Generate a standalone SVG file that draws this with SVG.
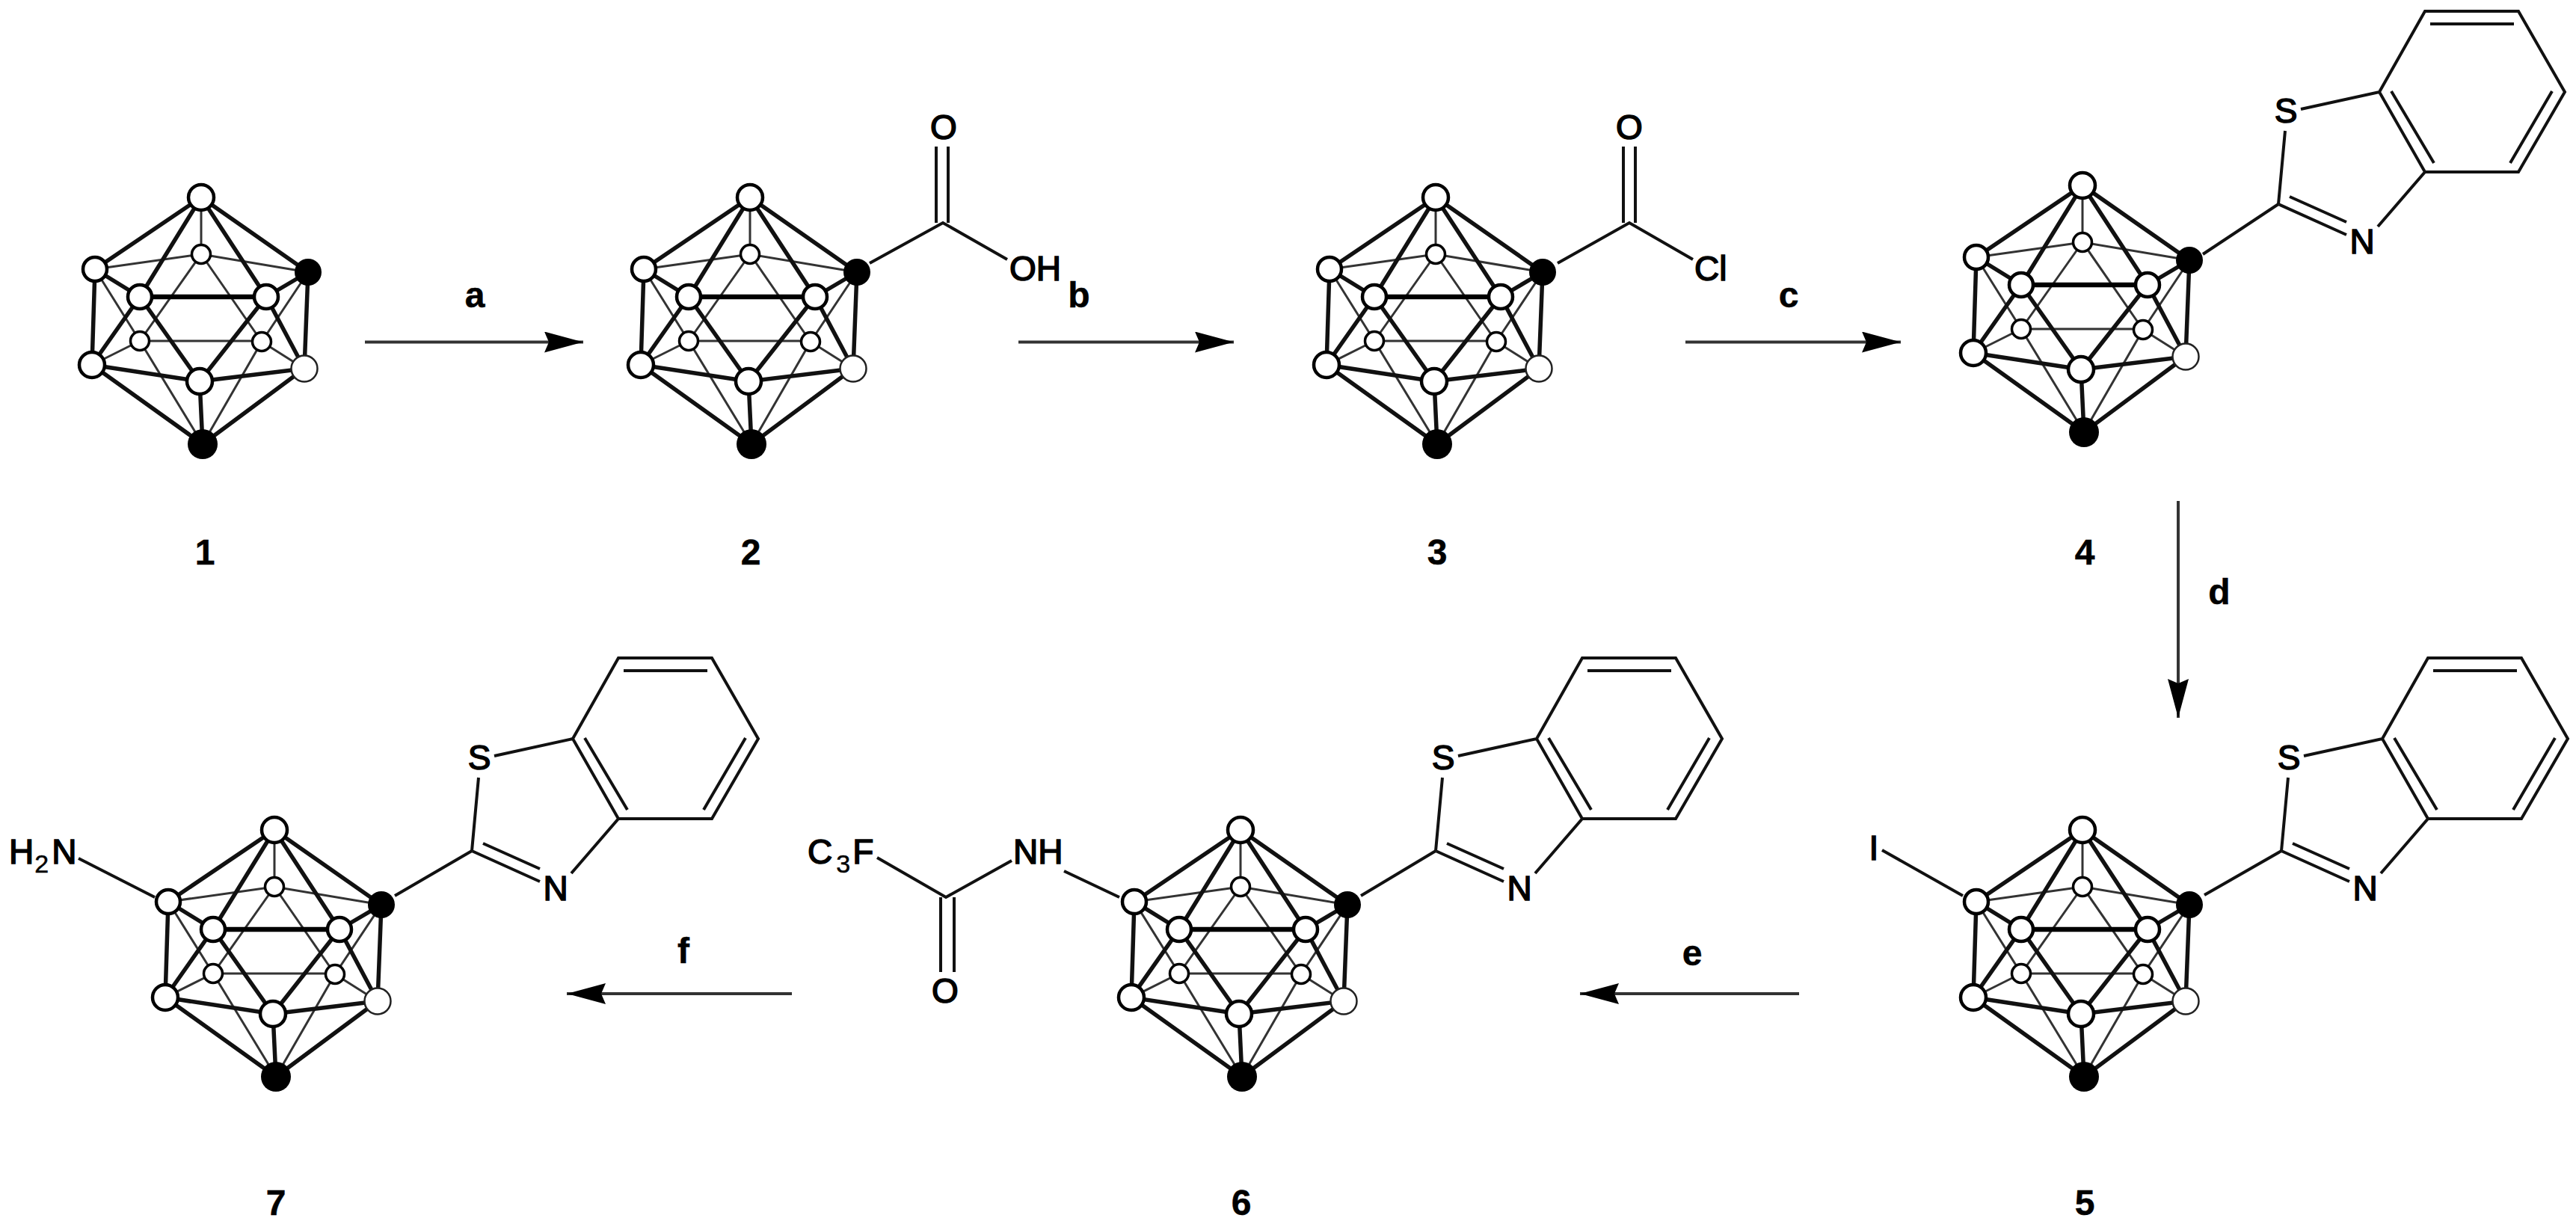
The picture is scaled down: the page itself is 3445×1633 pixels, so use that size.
<svg xmlns="http://www.w3.org/2000/svg" xmlns:xlink="http://www.w3.org/1999/xlink" width="3445" height="1633" viewBox="0 0 3445 1633">
<style>
text{font-family:"Liberation Sans",Arial,sans-serif;font-size:46px;fill:#000;stroke:#000;stroke-width:1.600}
.n{font-weight:bold;font-size:48px;stroke-width:.5}
.m{text-anchor:middle}
.s{font-size:34px;stroke-width:.5}
.k{stroke:#111;stroke-width:5.500;fill:none;stroke-linecap:round}
.t{stroke:#333;stroke-width:3;fill:none}
.h{stroke:#000;stroke-width:6.500;fill:none}
.b{stroke:#111;stroke-width:4;fill:none}
.a{stroke:#333;stroke-width:4;fill:none;marker-end:url(#ah)}
.f{fill:#fff;stroke:#000;stroke-width:4.500}
.g{fill:#fff;stroke:#000;stroke-width:3.500}
</style>
<defs>
<marker id="ah" markerUnits="userSpaceOnUse" markerWidth="56" markerHeight="30" refX="52" refY="14" orient="auto"><path d="M0 0L52 14L0 28L6 14Z" fill="#000"/></marker>
<g id="cage">
<path class="t" d="M269 264V340M127 360L269 340L412 364M269 340L187 456M269 340L350 457M127 360L187 456M412 364L350 457M187 456H350M187 456L123 488M350 457L407 493M187 456L271 594M350 457L271 594"/>
<path class="k" d="M269 264L127 360M269 264L412 364M269 264L187 397M269 264L356 397M127 360L187 397M412 364L356 397M127 360L123 488M412 364L407 493M187 397L123 488M187 397L267 510M356 397L267 510M356 397L407 493M123 488L267 510M407 493L267 510M123 488L271 594M407 493L271 594M267 510L271 594"/>
<path class="h" d="M187 397H356"/>
<circle class="f" cx="269" cy="264" r="17"/>
<circle class="f" cx="127" cy="360" r="16"/>
<circle cx="412" cy="364" r="18" fill="#000"/>
<circle class="g" cx="269" cy="340" r="12.500"/>
<circle class="f" cx="187" cy="397" r="16"/>
<circle class="f" cx="356" cy="397" r="16"/>
<circle class="g" cx="187" cy="456" r="12.500"/>
<circle class="g" cx="350" cy="457" r="12.500"/>
<circle class="f" cx="123" cy="488" r="17"/>
<circle cx="407" cy="493" r="17.500" fill="#fff" stroke="#222" stroke-width="2.500"/>
<circle class="f" cx="267" cy="510" r="17"/>
<circle cx="271" cy="594" r="20" fill="#000"/>
</g>
<g id="bt">
<path class="b" d="M3047 273L3056 175M3077 146L3182 123L3243 230L3180 303M3047 273L3138 314M3062 263L3138 297M3182 123L3243 15H3368L3430 123L3368 230H3243M3250 32H3362M3198 122L3255 218M3413 122L3357 218"/>
<text x="3057" y="164" class="m">S</text>
<text x="3159" y="339" class="m">N</text>
</g>
</defs>
<g id="connectors">
<path class="a" d="M488 457.500H780"/>
<path class="a" d="M1362 457.500H1650"/>
<path class="a" d="M2254 457.500H2542"/>
<path class="a" d="M2913 670V960"/>
<path class="a" d="M2406 1329H2113"/>
<path class="a" d="M1059 1329H758"/>
</g>
<g id="reagents">
<text class="n m" x="635" y="411">a</text>
<text class="n m" x="1443" y="411">b</text>
<text class="n m" x="2392" y="411">c</text>
<text class="n m" x="2968" y="808">d</text>
<text class="n m" x="2263" y="1291">e</text>
<text class="n m" x="914" y="1288">f</text>
</g>
<g id="compound-1">
<use xlink:href="#cage" href="#cage"/>
<text class="n m" x="274" y="755">1</text>
</g>
<g id="compound-2">
<use xlink:href="#cage" href="#cage" x="734"/>
<path class="b" d="M1163 352L1261 298L1347 347M1252 298V196M1268 298V196"/>
<text class="m" x="1262" y="186">O</text>
<text x="1350" y="375">OH</text>
<text class="n m" x="1004" y="755">2</text>
</g>
<g id="compound-3">
<use xlink:href="#cage" href="#cage" x="1651"/>
<path class="b" d="M2083 352L2179 298L2264 347M2171 298V196M2187 298V196"/>
<text class="m" x="2179" y="186">O</text>
<text x="2266" y="375">Cl</text>
<text class="n m" x="1922" y="755">3</text>
</g>
<g id="compound-4">
<use xlink:href="#cage" href="#cage" x="2516" y="-16"/>
<path class="b" d="M2946 340L3047 273"/>
<use xlink:href="#bt" href="#bt"/>
<text class="n m" x="2788" y="755">4</text>
</g>
<g id="compound-5">
<use xlink:href="#cage" href="#cage" x="2516" y="846"/>
<path class="b" d="M2948 1197L3051 1138"/>
<use xlink:href="#bt" href="#bt" x="4" y="865"/>
<path class="b" d="M2517 1137L2625 1198"/>
<text class="m" x="2506" y="1150">I</text>
<text class="n m" x="2788" y="1625">5</text>
</g>
<g id="compound-6">
<use xlink:href="#cage" href="#cage" x="1390" y="846"/>
<path class="b" d="M1820 1198L1920 1138"/>
<use xlink:href="#bt" href="#bt" x="-1127" y="865"/>
<path class="b" d="M1173 1147L1265 1200L1353 1151M1423 1165L1497 1200M1258 1200V1300M1276 1200V1300"/>
<text x="1080" y="1155">C<tspan class="s" dx="5" dy="12">3</tspan><tspan dx="3" dy="-12">F</tspan></text>
<text x="1355" y="1155">NH</text>
<text class="m" x="1264" y="1341">O</text>
<text class="n m" x="1660" y="1625">6</text>
</g>
<g id="compound-7">
<use xlink:href="#cage" href="#cage" x="98" y="846"/>
<path class="b" d="M528 1198L631 1138"/>
<use xlink:href="#bt" href="#bt" x="-2416" y="865"/>
<path class="b" d="M105 1148L207 1200"/>
<text x="12" y="1155">H<tspan class="s" dx="1" dy="12">2</tspan><tspan dx="4" dy="-12">N</tspan></text>
<text class="n m" x="369" y="1625">7</text>
</g>
</svg>
